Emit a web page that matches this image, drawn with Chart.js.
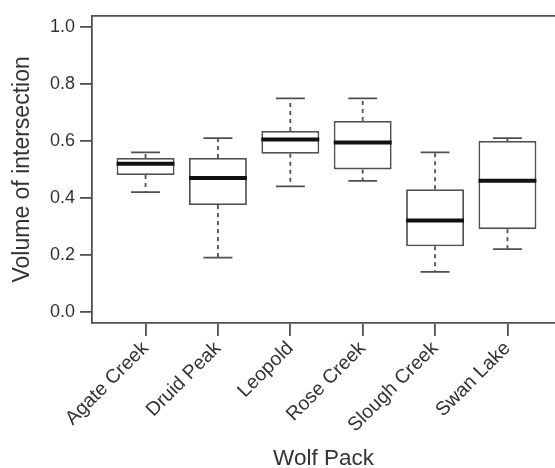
<!DOCTYPE html>
<html>
<head>
<meta charset="utf-8">
<script src="https://cdn.jsdelivr.net/npm/chart.js@4.4.0/dist/chart.umd.min.js"></script>
<style>
  html, body { margin: 0; padding: 0; background: #fff; overflow: hidden; }
</style>
</head>
<body>
<canvas id="boxCanvas" width="555" height="468"></canvas>
<script>
// wolf pack boxplot
const packs = ['Agate Creek', 'Druid Peak', 'Leopold', 'Rose Creek', 'Slough Creek', 'Swan Lake'];
const lowWhisker = [0.42, 0.19, 0.44, 0.46, 0.14, 0.22];
const q1 = [0.48, 0.375, 0.555, 0.50, 0.23, 0.29];
const median = [0.52, 0.47, 0.605, 0.595, 0.32, 0.46];
const q3 = [0.54, 0.54, 0.635, 0.67, 0.43, 0.60];
const highWhisker = [0.56, 0.61, 0.75, 0.75, 0.56, 0.61];
const yTicks = [0, 0.2, 0.4, 0.6, 0.8, 1.0];

const lineGrey = '#505050';
const textGrey = '#333';
const fam = '"Liberation Sans", Arial, Helvetica, sans-serif';

// whiskers, caps and medians drawn on top of the box bars
const boxExtras = {
    id: 'boxExtras',
    afterDatasetsDraw(chart) {
        const { ctx, chartArea, scales: { x, y } } = chart;
        ctx.save();
        packs.forEach((p, i) => {
            const cx = x.getPixelForValue(i + 1);
            const capL = x.getPixelForValue(i + 1 - 0.2), capR = x.getPixelForValue(i + 1 + 0.2);
            const boxL = x.getPixelForValue(i + 1 - 0.4), boxR = x.getPixelForValue(i + 1 + 0.4);

            ctx.strokeStyle = lineGrey;
            ctx.lineWidth = 1.8;
            ctx.setLineDash([4, 4]);
            ctx.beginPath();
            ctx.moveTo(cx, y.getPixelForValue(q3[i]));
            ctx.lineTo(cx, y.getPixelForValue(highWhisker[i]));
            ctx.moveTo(cx, y.getPixelForValue(q1[i]));
            ctx.lineTo(cx, y.getPixelForValue(lowWhisker[i]));
            ctx.stroke();

            ctx.setLineDash([]);
            ctx.beginPath();
            ctx.moveTo(capL, y.getPixelForValue(highWhisker[i]));
            ctx.lineTo(capR, y.getPixelForValue(highWhisker[i]));
            ctx.moveTo(capL, y.getPixelForValue(lowWhisker[i]));
            ctx.lineTo(capR, y.getPixelForValue(lowWhisker[i]));
            ctx.stroke();

            ctx.strokeStyle = '#111';
            ctx.lineWidth = 4;
            ctx.beginPath();
            ctx.moveTo(boxL, y.getPixelForValue(median[i]));
            ctx.lineTo(boxR, y.getPixelForValue(median[i]));
            ctx.stroke();
        });
        // top edge of the frame
        ctx.strokeStyle = lineGrey;
        ctx.lineWidth = 1.8;
        ctx.beginPath();
        ctx.moveTo(chartArea.left, chartArea.top);
        ctx.lineTo(chartArea.right, chartArea.top);
        ctx.stroke();
        ctx.restore();
    }
};

new Chart(document.getElementById('boxCanvas').getContext('2d'), {
    type: 'bar',
    data: {
        datasets: [{
            data: packs.map((p, i) => ({ x: i + 1, y: [q1[i], q3[i]] })),
            backgroundColor: '#fff',
            borderColor: lineGrey,
            borderWidth: 1.8,
            borderSkipped: false,
            barPercentage: 0.8,
            categoryPercentage: 1
        }]
    },
    options: {
        responsive: false,
        devicePixelRatio: 1,
        animation: false,
        layout: { padding: { top: 14, left: 0, right: 0, bottom: 0 } },
        plugins: { legend: { display: false }, tooltip: { enabled: false } },
        scales: {
            x: {
                type: 'linear',
                offset: false,
                min: 0.26,
                max: 6.657,
                afterBuildTicks: s => { s.ticks = packs.map((p, i) => ({ value: i + 1 })); },
                afterFit: s => { s.height = 145; },
                grid: { offset: false, drawOnChartArea: false, drawTicks: true, tickLength: 13, color: lineGrey, lineWidth: 1.8 },
                border: { display: true, color: lineGrey, width: 1.8 },
                ticks: {
                    autoSkip: false,
                    maxRotation: 45,
                    minRotation: 45,
                    padding: 1,
                    color: textGrey,
                    font: { family: fam, size: 19.5 },
                    callback: v => packs[v - 1]
                },
                title: {
                    display: true,
                    text: 'Wolf Pack',
                    color: textGrey,
                    font: { family: fam, size: 22.5, lineHeight: 0.8 },
                    padding: { top: 0, bottom: 0 }
                }
            },
            y: {
                min: -0.04,
                max: 1.04,
                afterBuildTicks: s => { s.ticks = yTicks.map(v => ({ value: v })); },
                afterFit: s => { s.width = 92; },
                grid: { drawOnChartArea: false, drawTicks: true, tickLength: 12, color: lineGrey, lineWidth: 1.8 },
                border: { display: true, color: lineGrey, width: 1.8 },
                ticks: {
                    padding: 5,
                    color: textGrey,
                    font: { family: fam, size: 18 },
                    callback: v => v.toFixed(1)
                },
                title: {
                    display: true,
                    text: 'Volume of intersection',
                    color: textGrey,
                    font: { family: fam, size: 23, lineHeight: 1 },
                    padding: { top: 11, bottom: 0 }
                }
            }
        }
    },
    plugins: [boxExtras]
});
</script>
</body>
</html>
